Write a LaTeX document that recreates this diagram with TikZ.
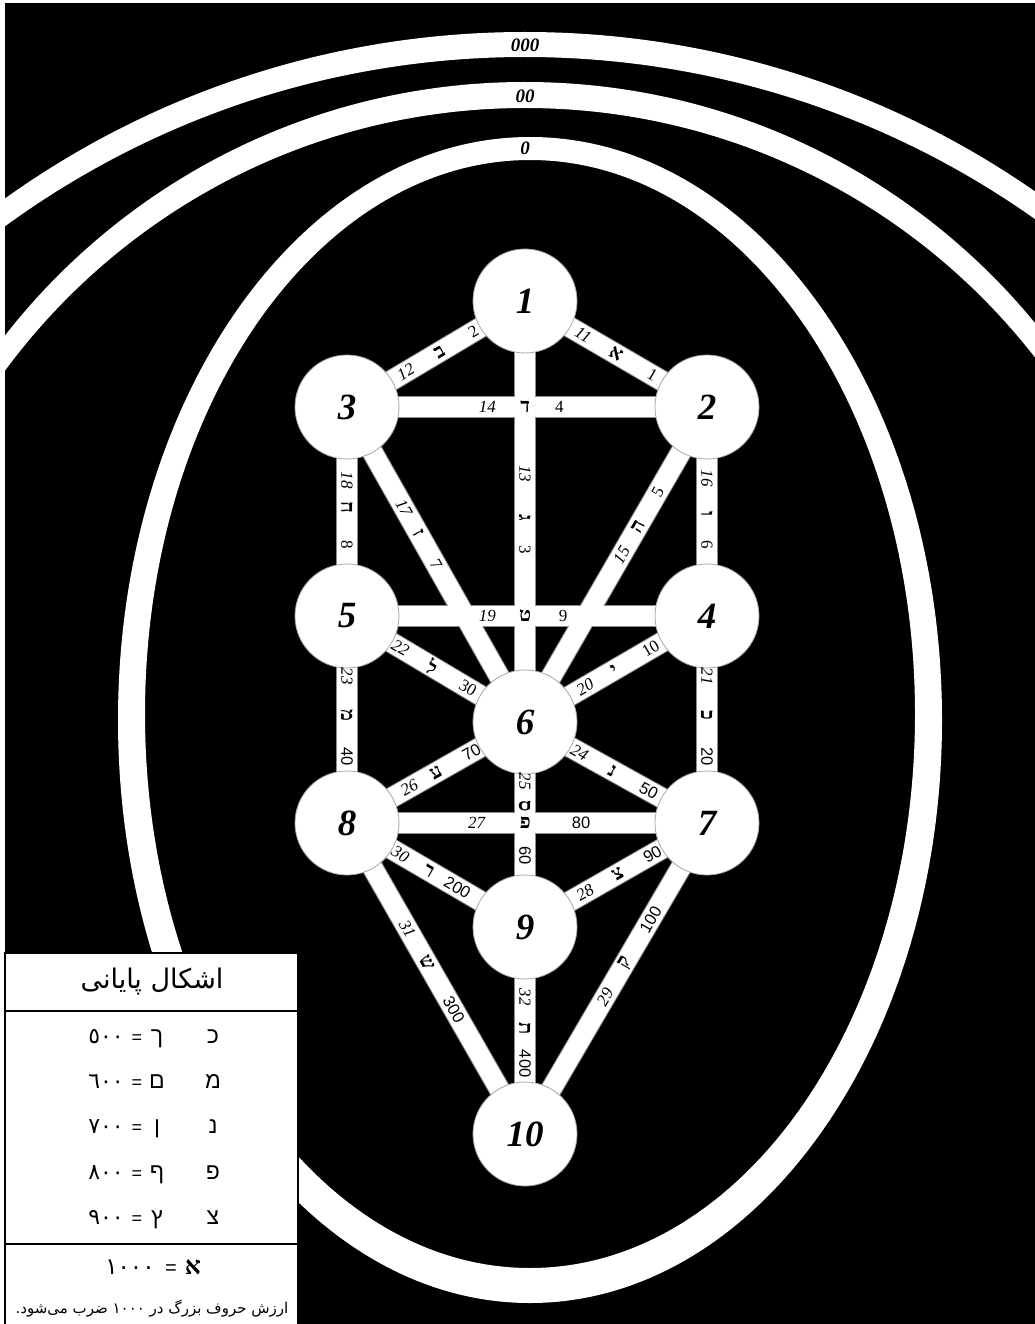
\documentclass[tikz,border=0pt]{standalone}
\usepackage{fontspec}
\setmainfont{Liberation Serif}
\newfontfamily\sansf{Liberation Sans}
\newfontfamily\hebf[Script=Hebrew]{Liberation Sans}
\newfontfamily\hebserif[Script=Hebrew]{Liberation Serif}
\newfontfamily\arabicfont[Script=Arabic]{DejaVu Sans}
\TeXXeTstate=1
\pgfdeclarelayer{back}
\pgfdeclarelayer{barlayer}
\pgfsetlayers{back,barlayer,main}
\begin{document}
\begin{tikzpicture}[x=1pt,y=-1pt,
  seph/.style={circle,fill=white,draw=black!35,line width=0.8pt,minimum size=104pt,inner sep=0pt,
    font=\fontsize{37}{37}\selectfont\bfseries\itshape},
  barline/.style={draw=black!45,line width=21.5pt},
  barfill/.style={draw=white,line width=19.5pt},
  lab/.style={font=\fontsize{17}{17}\selectfont\itshape,inner sep=0pt},
  vs/.style={font=\fontsize{17}{17}\selectfont,inner sep=0pt},
  vn/.style={font=\sansf\fontsize{16.5}{16.5}\selectfont,inner sep=0pt},
  hl/.style={font=\hebserif\bfseries\fontsize{20}{20}\selectfont,inner sep=0pt},
  ring/.style={font=\fontsize{19}{19}\selectfont\bfseries\itshape,inner sep=0pt},
  tabtxt/.style={anchor=base,inner sep=0pt},
  vert/.style={rotate=-90}]
\useasboundingbox (0,0) rectangle (1035,1324);
% ---------- background and rings
\begin{pgfonlayer}{back}
\fill[white] (0,0) rectangle (1035,1324);
\fill[black] (5,3) rectangle (1035,1324);
\begin{scope}
\clip (5,3) rectangle (1035,650);
\fill[white,even odd rule] (525,927) circle[radius=895pt] (525,940) circle[radius=883pt];
\fill[white,even odd rule] (525,742) circle[radius=660pt] (525,754) circle[radius=646pt];
\end{scope}
\fill[white,even odd rule] (530,720) ellipse[x radius=412pt,y radius=583pt] (530,714) ellipse[x radius=385pt,y radius=554pt];
\node[ring] (r3) at (525,45) {000};
\node[ring] (r2) at (525,96) {00};
\node[ring] (r1) at (525,148) {0};
\end{pgfonlayer}
% ---------- sephiroth
\node[seph] (s1) at (525,301) {1};
\node[seph] (s2) at (707,407) {2};
\node[seph] (s3) at (347,407) {3};
\node[seph] (s4) at (707,616) {4};
\node[seph] (s5) at (347,616) {5};
\node[seph] (s6) at (525,722) {6};
\node[seph] (s7) at (707,823) {7};
\node[seph] (s8) at (347,823) {8};
\node[seph] (s9) at (525,927) {9};
\node[seph] (s10) at (525,1134) {10};
% ---------- paths
\begin{pgfonlayer}{barlayer}
\foreach \a/\b in {1/2,1/3,1/6,3/2,6/2,2/4,3/6,3/5,5/4,6/4,4/7,5/6,5/8,6/7,6/9,8/6,8/7,9/7,10/7,8/9,8/10,9/10}
  \draw[barline] (s\a.center) -- (s\b.center);
\foreach \a/\b in {1/2,1/3,1/6,3/2,6/2,2/4,3/6,3/5,5/4,6/4,4/7,5/6,5/8,6/7,6/9,8/6,8/7,9/7,10/7,8/9,8/10,9/10}
  \draw[barfill] (s\a.center) -- (s\b.center);
\end{pgfonlayer}
% ---------- path labels
\path (s1.center) -- (s2.center) node[lab,sloped,pos=.32]{11} node[hl,sloped,pos=.50]{א} node[vs,sloped,pos=.70]{1};
\path (s3.center) -- (s1.center) node[lab,sloped,pos=.33]{12} node[hl,sloped,pos=.52]{ב} node[vs,sloped,pos=.71]{2};
\path (s1.center) -- (s6.center) node[lab,vert,pos=.41]{13} node[hl,vert,pos=.515]{ג} node[vs,vert,pos=.59]{3};
\path (s3.center) -- (s2.center) node[lab,pos=.39]{14} node[hl,pos=.495]{ד} node[vs,pos=.59]{4};
\path (s6.center) -- (s2.center) node[lab,sloped,pos=.53]{15} node[hl,sloped,pos=.62]{ה} node[vs,sloped,pos=.73]{5};
\path (s2.center) -- (s4.center) node[lab,vert,pos=.34]{16} node[hl,vert,pos=.51]{ו} node[vs,vert,pos=.66]{6};
\path (s3.center) -- (s6.center) node[lab,sloped,pos=.32]{17} node[hl,sloped,pos=.40]{ז} node[vs,sloped,pos=.50]{7};
\path (s3.center) -- (s5.center) node[lab,vert,pos=.35]{18} node[hl,vert,pos=.48]{ח} node[vs,vert,pos=.66]{8};
\path (s5.center) -- (s4.center) node[lab,pos=.39]{19} node[hl,pos=.495]{ט} node[vs,pos=.60]{9};
\path (s6.center) -- (s4.center) node[lab,sloped,pos=.33]{20} node[hl,sloped,pos=.49]{י} node[vs,sloped,pos=.69]{10};
\path (s4.center) -- (s7.center) node[lab,vert,pos=.29]{21} node[hl,vert,pos=.48]{כ} node[vn,vert,pos=.68]{20};
\path (s5.center) -- (s6.center) node[lab,sloped,pos=.30]{22} node[hl,sloped,pos=.48]{ל} node[vs,sloped,pos=.68]{30};
\path (s5.center) -- (s8.center) node[lab,vert,pos=.29]{23} node[hl,vert,pos=.48]{מ} node[vn,vert,pos=.68]{40};
\path (s6.center) -- (s7.center) node[lab,sloped,pos=.30]{24} node[hl,sloped,pos=.48]{נ} node[vn,sloped,pos=.68]{50};
\path (s6.center) -- (s9.center) node[lab,vert,pos=.29]{25} node[hl,vert,pos=.41]{ס} node[vn,vert,pos=.65]{60};
\path (s8.center) -- (s6.center) node[lab,sloped,pos=.35]{26} node[hl,sloped,pos=.50]{ע} node[vn,sloped,pos=.70]{70};
\path (s8.center) -- (s7.center) node[lab,pos=.36]{27} node[hl,pos=.495]{פ} node[vn,pos=.65]{80};
\path (s9.center) -- (s7.center) node[lab,sloped,pos=.33]{28} node[hl,sloped,pos=.51]{צ} node[vn,sloped,pos=.70]{90};
\path (s10.center) -- (s7.center) node[lab,sloped,pos=.44]{29} node[hl,sloped,pos=.55]{ק} node[vn,sloped,pos=.69]{100};
\path (s8.center) -- (s9.center) node[lab,sloped,pos=.30]{30} node[hl,sloped,pos=.46]{ר} node[vn,sloped,pos=.62]{200};
\path (s8.center) -- (s10.center) node[lab,sloped,pos=.34]{31} node[hl,sloped,pos=.45]{ש} node[vn,sloped,pos=.60]{300};
\path (s9.center) -- (s10.center) node[lab,vert,pos=.34]{32} node[hl,vert,pos=.49]{ת} node[vn,vert,pos=.66]{400};
% ---------- table of final forms
\draw[fill=white,line width=2pt] (5,953) rectangle (298,1326);
\draw[line width=2pt] (5,1011) -- (298,1011);
\draw[line width=2pt] (5,1244) -- (298,1244);
\node[tabtxt,font=\arabicfont\fontsize{27}{27}\selectfont] (ttl) at (152,988) {\beginR اشکال پایانی\endR};
\foreach \yy/\dd/\ff/\ll [count=\i] in {1043/٥٠٠/ך/כ,1088/٦٠٠/ם/מ,1133/٧٠٠/ן/נ,1179/٨٠٠/ף/פ,1224/٩٠٠/ץ/צ}{
  \node[tabtxt,font=\arabicfont\fontsize{22}{22}\selectfont] (d\i) at (106,\yy) {\dd};
  \node[tabtxt,font=\sansf\fontsize{18}{18}\selectfont] (e\i) at (137,\yy) {=};
  \node[tabtxt,font=\hebf\fontsize{23}{23}\selectfont] (f\i) at (157,\yy) {\ff};
  \node[tabtxt,font=\hebf\fontsize{23}{23}\selectfont] (l\i) at (213,\yy) {\ll};
}
\node[tabtxt,font=\arabicfont\fontsize{23}{23}\selectfont] (dk) at (130,1274) {١٠٠٠};
\node[tabtxt,font=\sansf\fontsize{20}{20}\selectfont] (ek) at (171,1274) {=};
\node[tabtxt,font=\hebserif\bfseries\fontsize{25}{25}\selectfont] (ak) at (193,1274) {א};
\node[tabtxt,font=\arabicfont\fontsize{15}{15}\selectfont] (note) at (152,1313) {\beginR ارزش حروف بزرگ در \beginL١٠٠٠\endL{} ضرب می‌شود.\endR};
\end{tikzpicture}
\end{document}
